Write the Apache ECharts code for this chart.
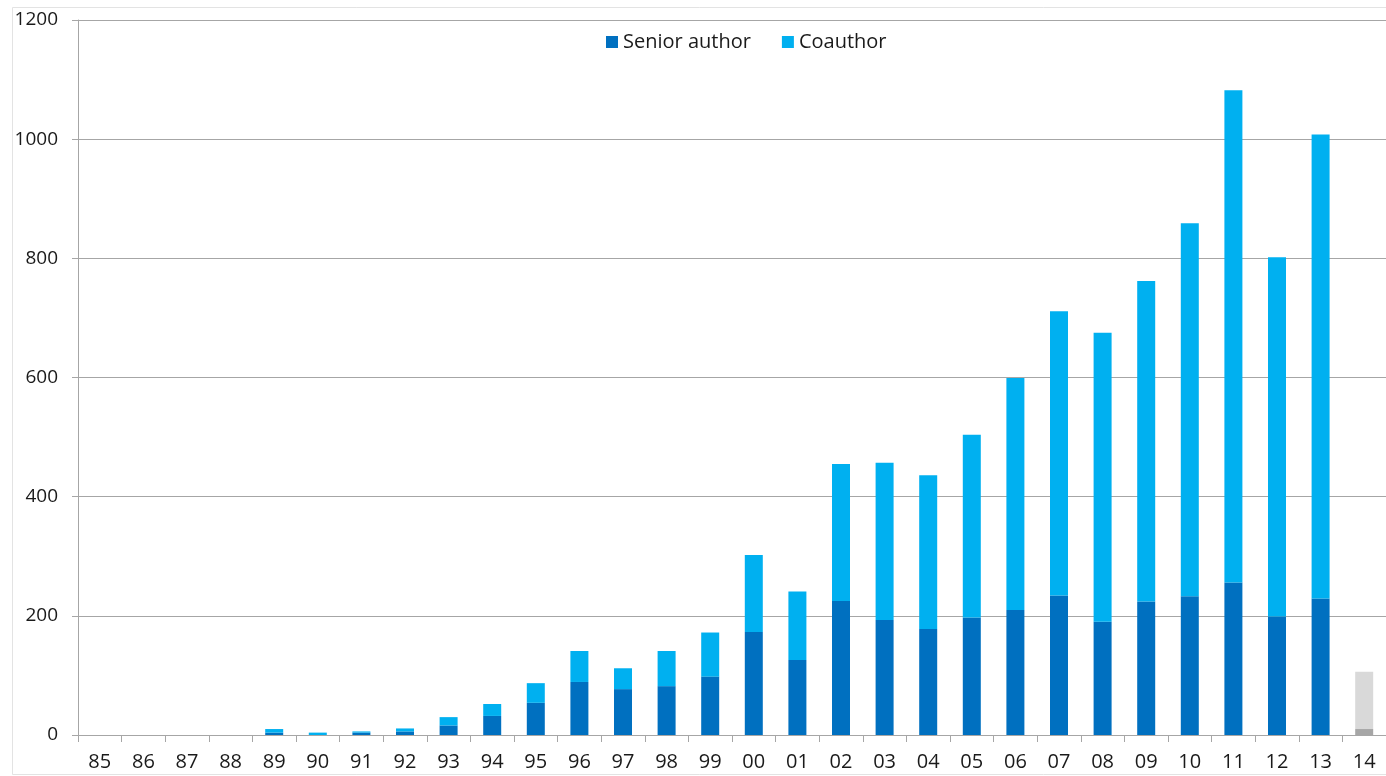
<!DOCTYPE html>
<html>
<head>
<meta charset="utf-8">
<script src="https://cdn.jsdelivr.net/npm/echarts@6/dist/echarts.min.js"></script>
<style>
html,body{margin:0;padding:0;background:#fff;}
#chart{width:1386px;height:776px;}
</style>
</head>
<body>
<div id="chart"></div>
<script>
const years = ['85','86','87','88','89','90','91','92','93','94','95','96','97','98','99','00','01','02','03','04','05','06','07','08','09','10','11','12','13','14'];
const seniorAuthor = [0,0,0,0,4,0,4,6,16,32,54,89,77,82,98,173,126,225,193,178,197,210,234,190,224,233,256,199,229,10];
const coauthor = [0,0,0,0,6,4,2,5,14,20,33,52,35,59,74,129,115,230,264,258,307,389,477,485,538,626,826,603,779,96];
const partialYear = ['14'];
const yTicks = [0,200,400,600,800,1000,1200];

const seniorColor = '#0070c0', coColor = '#00b0f0';
const seniorGray = '#a6a6a6', coGray = '#d9d9d9';
const font = '"Open Sans", "Noto Sans", sans-serif';

function build(vals, color, gray) {
  return vals.map((v, i) => partialYear.includes(years[i]) ? {value: v, itemStyle: {color: gray}} : v);
}

const chart = echarts.init(document.getElementById('chart'), null, {renderer: 'canvas'});
chart.setOption({
  animation: false,
  backgroundColor: '#fff',
  textStyle: {fontFamily: font},
  graphic: [{
    type: 'rect', shape: {x: 12.5, y: 7.5, width: 1400, height: 767}, silent: true,
    style: {fill: 'none', stroke: '#e3e3e3', lineWidth: 1}, z: -10
  }],
  legend: {
    left: 601, top: 27, itemWidth: 12, itemHeight: 12, itemGap: 31,
    icon: 'rect',
    textStyle: {fontFamily: font, fontSize: 20, color: '#1a1a1a'},
    data: ['Senior author', 'Coauthor']
  },
  grid: {left: 78, top: 20, bottom: 41, right: -10, containLabel: false},
  xAxis: {
    type: 'category', data: years,
    axisLine: {lineStyle: {color: '#a6a6a6', width: 1}},
    axisTick: {show: true, alignWithLabel: false, length: 7, lineStyle: {color: '#a6a6a6'}},
    axisLabel: {fontFamily: font, fontSize: 20, color: '#1a1a1a', margin: 17, interval: 0}
  },
  yAxis: {
    type: 'value', min: yTicks[0], max: yTicks[yTicks.length-1], interval: 200,
    axisLine: {show: true, lineStyle: {color: '#a6a6a6', width: 1}},
    axisTick: {show: true, length: 6, lineStyle: {color: '#a6a6a6'}},
    splitLine: {show: true, lineStyle: {color: '#a6a6a6', width: 1}},
    axisLabel: {fontFamily: font, fontSize: 19, color: '#1a1a1a', margin: 20,
                formatter: v => String(v)}
  },
  series: [
    {name: 'Senior author', type: 'bar', stack: 'total', barWidth: 18,
     itemStyle: {color: seniorColor}, data: build(seniorAuthor, seniorColor, seniorGray)},
    {name: 'Coauthor', type: 'bar', stack: 'total', barWidth: 18,
     itemStyle: {color: coColor}, data: build(coauthor, coColor, coGray)}
  ]
});
</script>
</body>
</html>
